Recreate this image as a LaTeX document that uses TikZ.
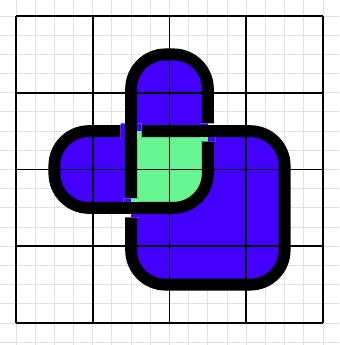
\documentclass[tikz,border=0pt]{standalone}
\definecolor{kblue}{HTML}{4400FF}
\definecolor{kgreen}{HTML}{66F590}
\tikzset{
  finegrid/.style={draw=black!12, line width=0.05cm},
  majorgrid/.style={draw=black, line width=0.09cm},
  knotline/.style={draw=black, line width=0.62cm, rounded corners=1.8cm},
  overstrand/.style={draw=black, line width=0.62cm},
}
\newcommand{\KnotFill}{\fill[kblue, rounded corners=1.8cm] (6,8) -- (6,14) -- (10,14) -- (10,6) -- (2,6) -- (2,10) -- (14,10) -- (14,2) -- (6,2) -- cycle;}
\newcommand{\CoreFill}{\fill[kgreen] (6,10) -- (10,10) -- (10,7.8) arc[start angle=0, end angle=-90, radius=1.8] -- (6,6) -- cycle;}
\newcommand{\FineGrid}{\draw[finegrid] (-1,-2) grid (17,17);}
\begin{document}
\begin{tikzpicture}
\useasboundingbox (-0.834,-1.146) rectangle (16.834,16.834);
\clip (-0.834,-1.146) rectangle (16.834,16.834);
\fill[white] (-0.834,-1.146) rectangle (16.834,16.834);
\FineGrid
\KnotFill
\CoreFill
\draw[majorgrid] (0,0) grid[step=4] (16,16);
\draw[knotline] (6,8) -- (6,14) -- (10,14) -- (10,6) -- (2,6) -- (2,10) -- (14,10) -- (14,2) -- (6,2) -- cycle;
% gaps where a strand passes under
\begin{scope}
  \clip (5.45,9.6) rectangle (6.55,10.4)
        (9.6,9.47) rectangle (10.4,10.4)
        (5.6,5.5) rectangle (6.4,6.5);
  \fill[white] (5,5) rectangle (11,11);
  \FineGrid
  \KnotFill
  \CoreFill
  \fill[kblue] (5.4,9.6) rectangle (6,10.4);
\end{scope}
\draw[overstrand] (6,9.3) -- (6,10.7);
\draw[overstrand] (9.3,10) -- (10.7,10);
\draw[overstrand] (5.3,6) -- (6.7,6);
\end{tikzpicture}
\end{document}
